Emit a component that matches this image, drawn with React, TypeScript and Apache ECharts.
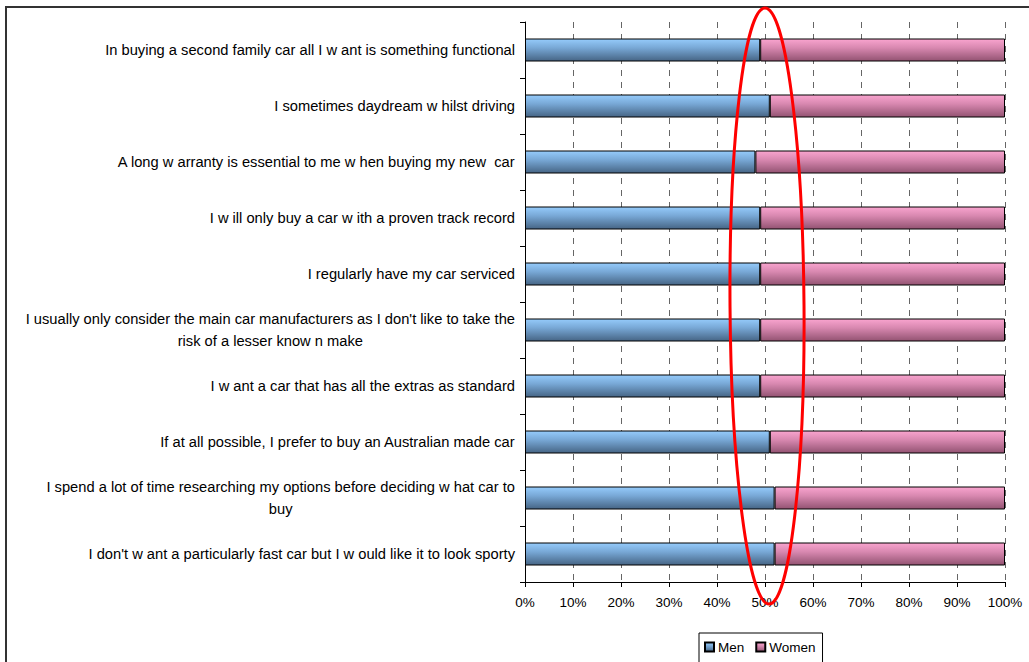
import React, { useEffect, useRef } from "react";
import * as echarts from "echarts";

const categories: string[] = [
  "In buying a second family car all I w ant is something functional",
  "I sometimes daydream w hilst driving",
  "A long w arranty is essential to me w hen buying my new  car",
  "I w ill only buy a car w ith a proven track record",
  "I regularly have my car serviced",
  "I usually only consider the main car manufacturers as I don't like to take the\nrisk of a lesser know n make",
  "I w ant a car that has all the extras as standard",
  "If at all possible, I prefer to buy an Australian made car",
  "I spend a lot of time researching my options before deciding w hat car to\nbuy",
  "I don't w ant a particularly fast car but I w ould like it to look sporty",
];

const menValues: number[] = [49, 51, 48, 49, 49, 49, 49, 51, 52, 52];
const womenValues: number[] = [51, 49, 52, 51, 51, 51, 51, 49, 48, 48];

const xTicks: number[] = [0, 10, 20, 30, 40, 50, 60, 70, 80, 90, 100];

const FONT = "'Liberation Sans', Arial, sans-serif";

export default function App() {
  const ref = useRef<HTMLDivElement>(null);

  useEffect(() => {
    if (!ref.current) return;
    const chart = echarts.init(ref.current, null, { renderer: "svg" });

    const blue = new echarts.graphic.LinearGradient(0, 0, 0, 1, [
      { offset: 0, color: "#95cbfb" },
      { offset: 0.4, color: "#78a8d6" },
      { offset: 1, color: "#466585" },
    ]);
    const pink = new echarts.graphic.LinearGradient(0, 0, 0, 1, [
      { offset: 0, color: "#f9a4cf" },
      { offset: 0.4, color: "#d888b0" },
      { offset: 1, color: "#935372" },
    ]);

    chart.setOption({
      animation: false,
      backgroundColor: "#ffffff",
      textStyle: { fontFamily: FONT },
      grid: { left: 525, right: 24, top: 22, bottom: 80, containLabel: false },
      legend: {
        data: ["Men", "Women"],
        left: 699,
        top: 633,
        orient: "horizontal",
        icon: "rect",
        itemWidth: 9,
        itemHeight: 9,
        itemGap: 11,
        padding: [7, 7, 30, 5],
        borderColor: "#000",
        borderWidth: 1,
        textStyle: { fontSize: 13.5, color: "#000", fontFamily: FONT, padding: [0, 0, 0, -1] },
      },
      xAxis: {
        type: "value",
        min: xTicks[0],
        max: xTicks[xTicks.length - 1],
        interval: 10,
        axisLine: { show: true, lineStyle: { color: "#000", width: 1 } },
        axisTick: { show: true, length: 5, inside: false, lineStyle: { color: "#000" } },
        axisLabel: {
          formatter: "{value}%",
          fontSize: 13.5,
          color: "#000",
          fontFamily: FONT,
          margin: 13,
        },
        splitLine: {
          show: true,
          lineStyle: { color: "#666", type: [6, 6], width: 1 },
        },
      },
      yAxis: {
        type: "category",
        data: categories,
        inverse: true,
        axisLine: { show: true, lineStyle: { color: "#000", width: 1 } },
        axisTick: { show: true, length: 5, inside: false, alignWithLabel: false, lineStyle: { color: "#000" } },
        splitLine: { show: false },
        axisLabel: {
          interval: 0,
          margin: 10,
          align: "right",
          formatter: (v: string) =>
            v
              .split("\n")
              .map((l) => `{c|${l}}`)
              .join("\n"),
          rich: {
            c: {
              align: "center",
              fontSize: 14.7,
              lineHeight: 22,
              color: "#000",
              fontFamily: FONT,
            },
          },
        },
      },
      series: [
        {
          name: "Men",
          type: "bar",
          stack: "total",
          barWidth: 23,
          data: menValues,
          itemStyle: { color: blue, borderColor: "#000", borderWidth: 1 },
        },
        {
          name: "Women",
          type: "bar",
          stack: "total",
          barWidth: 23,
          data: womenValues,
          itemStyle: { color: pink, borderColor: "#000", borderWidth: 1 },
        },
      ],
      graphic: [
        {
          type: "rect",
          shape: { x: 6, y: 7, width: 1100, height: 700 },
          style: { fill: "none", stroke: "#333", lineWidth: 2 },
          silent: true,
          z: 100,
        },
        {
          type: "ellipse",
          shape: { cx: 767, cy: 306, rx: 37, ry: 298 },
          rotation: 0.007,
          originX: 767,
          originY: 306,
          style: { fill: "none", stroke: "#ff0000", lineWidth: 3 },
          silent: true,
          z: 100,
        },
      ],
    });

    return () => chart.dispose();
  }, []);

  return (
    <div
      ref={ref}
      style={{ position: "fixed", left: 0, top: 0, width: 1029, height: 662 }}
    />
  );
}
